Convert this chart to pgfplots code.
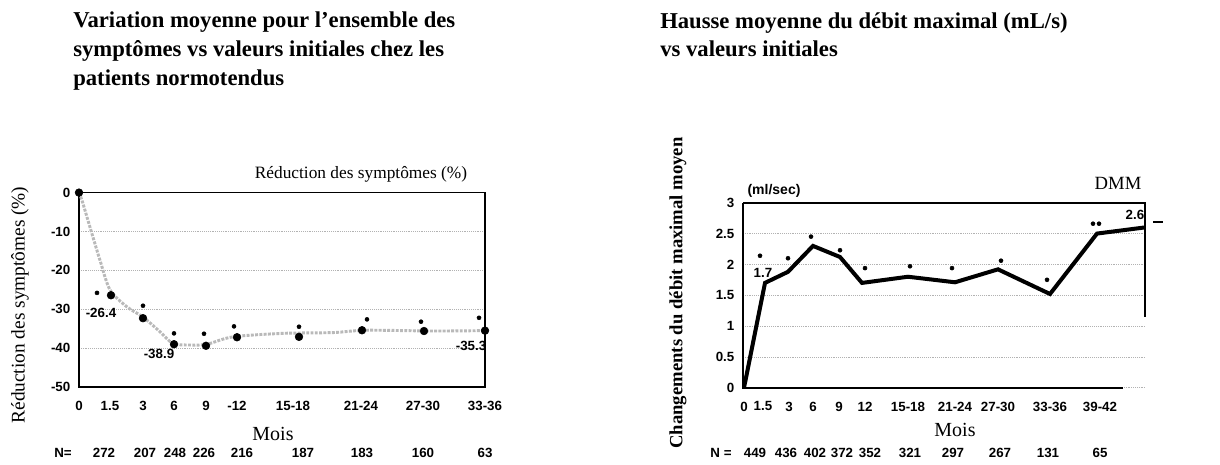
\documentclass[border=0pt]{standalone}
\usepackage{fontspec}
\setmainfont{Liberation Serif}
\setsansfont{Liberation Sans}
\usepackage{pgfplots}
\pgfplotsset{compat=1.18}
\begin{document}
\begin{tikzpicture}[x=0.75pt,y=-0.75pt]
\path (0,0) rectangle (1220,464);
% ---------------- titles
\node[anchor=north west, inner sep=0, align=left, font=\bfseries\fontsize{17}{21.4}\selectfont] at (73,12)
 {Variation moyenne pour l’ensemble des\\symptômes vs valeurs initiales chez les\\patients normotendus};
\node[anchor=north west, inner sep=0, align=left, font=\bfseries\fontsize{17}{21.4}\selectfont] at (660,12)
 {Hausse moyenne du débit maximal (mL/s)\\vs valeurs initiales};

% ---------------- left chart
\begin{axis}[at={(59.25pt,-290.25pt)}, anchor=south west, scale only axis,
  width=304.5pt, height=145.8pt,
  xmin=0, xmax=406, ymin=-50, ymax=0,
  xtick={0,31,64,95,127,158,214,282,344,406},
  xticklabels={0,1.5,3,6,9,-12,15-18,21-24,27-30,33-36},
  ytick={-50,-40,-30,-20,-10,0},
  yticklabels={-50,-40,-30,-20,-10,0},
  major tick length=0pt,
  ymajorgrids, grid style={densely dotted, gray!60, line width=0.6pt},
  tick label style={font=\sffamily\bfseries\fontsize{10}{11}\selectfont},
  xticklabel style={yshift=-7pt}, yticklabel style={xshift=-3pt},
  axis line style={line width=1.2pt},
  clip=false]
\addplot[gray!55, line width=2.2pt, densely dotted, smooth, tension=0.5] coordinates {
 (0,0) (3,-2) (11,-8.9) (21,-17.4) (31,-25) (48,-29.4) (64,-32) (81,-35.8) (94,-38.8)
 (111,-39.2) (128,-39) (154,-37.1) (204,-36.2) (254,-36) (287,-35.4) (354,-35.6) (404,-35.5)};
\addplot[only marks, mark=*, mark size=2.9pt, black] coordinates {
 (0,0) (32,-26.4) (64,-32.3) (95,-39.0) (127,-39.4) (158,-37.2) (220,-37.1) (283,-35.4) (345,-35.6) (406,-35.5)};
\addplot[only marks, mark=*, mark size=1.5pt, black] coordinates {
 (18,-25.8) (64,-29.1) (95,-36.2) (125,-36.3) (155,-34.4) (220,-34.5) (288,-32.6) (342,-33.2) (400,-32.2)};
\end{axis}
\node[font=\fontsize{13}{14}\selectfont] at (361,174) {Réduction des symptômes (\%)};
\node[font=\sffamily\bfseries\fontsize{10}{11}\selectfont] at (101,313) {-26.4};
\node[font=\sffamily\bfseries\fontsize{10}{11}\selectfont] at (159,354) {-38.9};
\node[font=\sffamily\bfseries\fontsize{10}{11}\selectfont] at (471,346) {-35.3};
\node[rotate=90, font=\fontsize{14.5}{15}\selectfont] at (20,305) {Réduction des symptômes (\%)};
\node[font=\fontsize{15}{16}\selectfont] at (273,434) {Mois};
\begin{scope}[every node/.style={font=\sffamily\bfseries\fontsize{10}{11}\selectfont}]
\node at (63,453) {N=};
\node at (104,453) {272};
\node at (145,453) {207};
\node at (175,453) {248};
\node at (204,453) {226};
\node at (242,453) {216};
\node at (303,453) {187};
\node at (362,453) {183};
\node at (423,453) {160};
\node at (485,453) {63};
\end{scope}

% ---------------- right chart
\begin{axis}[at={(557.25pt,-290.8pt)}, anchor=south west, scale only axis,
  width=301.5pt, height=138.75pt,
  xmin=0, xmax=402, ymin=0, ymax=3,
  xtick={1,20,46,70,96,122,165,212,255,307,357},
  xticklabels={0,1.5,3,6,9,12,15-18,21-24,27-30,33-36,39-42},
  ytick={0,0.5,1,1.5,2,2.5,3},
  yticklabels={0,0.5,1,1.5,2,2.5,3},
  major tick length=0pt,
  ymajorgrids, grid style={densely dotted, gray!60, line width=0.6pt},
  tick label style={font=\sffamily\bfseries\fontsize{10}{11}\selectfont},
  xticklabel style={yshift=-7pt}, yticklabel style={xshift=-3pt},
  axis line style={draw=none},
  clip=false]
\draw[line width=1.2pt] (axis cs:0,3) -- (axis cs:0,0) -- (axis cs:380,0);
\draw[line width=1.2pt] (axis cs:0,3) -- (axis cs:402,3) -- (axis cs:402,1.15);
\addplot[black, line width=3pt, mark=none] coordinates {
 (1,0) (22,1.7) (45,1.88) (70,2.3) (97,2.12) (119,1.7) (165,1.8) (212,1.71) (255,1.92) (307,1.52) (354,2.5) (402,2.6)};
\addplot[only marks, mark=*, mark size=1.5pt, black] coordinates {
 (17,2.14) (45,2.10) (68,2.45) (97,2.23) (122,1.94) (167,1.97) (209,1.94) (258,2.06) (304,1.75) (350,2.66) (356,2.66)};
\end{axis}
\node[font=\sffamily\bfseries\fontsize{10}{11}\selectfont] at (763,273) {1.7};
\node[font=\sffamily\bfseries\fontsize{10}{11}\selectfont] at (1135,215) {2.6};
\draw[line width=1pt] (1153,222) -- (1163,222);
\node[font=\sffamily\bfseries\fontsize{10.5}{11}\selectfont] at (774,191) {(ml/sec)};
\node[font=\fontsize{14}{15}\selectfont] at (1118,183) {DMM};
\node[rotate=90, font=\bfseries\fontsize{14}{15}\selectfont] at (678,293) {Changements du débit maximal moyen};
\node[font=\fontsize{15}{16}\selectfont] at (955,430) {Mois};
\begin{scope}[every node/.style={font=\sffamily\bfseries\fontsize{10}{11}\selectfont}]
\node at (721,453) {N =};
\node at (755,453) {449};
\node at (786,453) {436};
\node at (815,453) {402};
\node at (842,453) {372};
\node at (870,453) {352};
\node at (910,453) {321};
\node at (953,453) {297};
\node at (1000,453) {267};
\node at (1048,453) {131};
\node at (1100,453) {65};
\end{scope}
\end{tikzpicture}
\end{document}
